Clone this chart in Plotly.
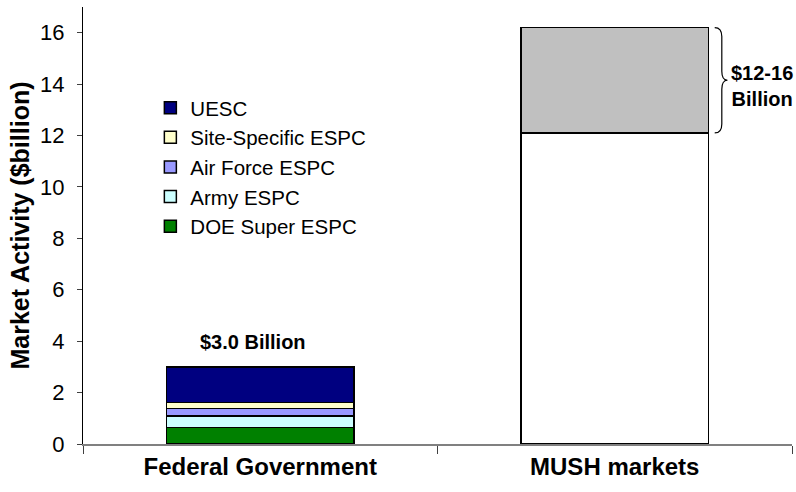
import plotly.graph_objects as go

# ---- data ----
categories = ["Federal Government", "MUSH markets"]
federal_series = ["DOE Super ESPC", "Army ESPC", "Air Force ESPC", "Site-Specific ESPC", "UESC"]
federal_values = [0.65, 0.43, 0.31, 0.23, 1.38]
federal_colors = ["#008000", "#CCFFFF", "#9999FF", "#FFFFCC", "#000080"]
mush_low = 12.1
mush_high = 16.2
y_ticks = [0, 2, 4, 6, 8, 10, 12, 14, 16]
federal_label = "$3.0 Billion"
mush_label = "$12-16<br>Billion"

FONT = "Liberation Sans, Arial, sans-serif"

fig = go.Figure()
for name, val, col in zip(federal_series, federal_values, federal_colors):
    fig.add_trace(go.Bar(
        x=[categories[0]], y=[val], name=name,
        marker=dict(color=col, line=dict(color="#000000", width=1.5)),
    ))
fig.add_trace(go.Bar(
    x=[categories[1]], y=[mush_low], name="MUSH low", showlegend=False,
    marker=dict(color="#FFFFFF", line=dict(color="#000000", width=1.5)),
))
fig.add_trace(go.Bar(
    x=[categories[1]], y=[mush_high - mush_low], name="MUSH range", showlegend=False,
    marker=dict(color="#C0C0C0", line=dict(color="#000000", width=1.5)),
))

fed_total = sum(federal_values)

fig.add_annotation(x=categories[0], y=fed_total, xref="x", yref="y",
                   text="<b>" + federal_label + "</b>", showarrow=False,
                   yanchor="bottom", yshift=12, xshift=-7,
                   font=dict(family=FONT, size=20, color="#000000"))

# curly brace next to MUSH range (paper x, data y)
x0, x1, x2 = 0.891, 0.901, 0.909
ymid = (mush_low + mush_high) / 2
d = 0.35
brace = (f"M {x0},{mush_high} Q {x1},{mush_high} {x1},{mush_high - d} "
         f"L {x1},{ymid + d} Q {x1},{ymid} {x2},{ymid} "
         f"Q {x1},{ymid} {x1},{ymid - d} "
         f"L {x1},{mush_low + d} Q {x1},{mush_low} {x0},{mush_low}")
fig.add_shape(type="path", path=brace, xref="paper", yref="y",
              line=dict(color="#000000", width=1.2))

fig.add_annotation(x=0.957, y=ymid, xref="paper", yref="y",
                   text="<b>" + mush_label + "</b>", showarrow=False,
                   xanchor="center", yanchor="middle", align="center",
                   yshift=-6,
                   font=dict(family=FONT, size=20, color="#000000"))

fig.update_layout(
    width=796, height=492,
    margin=dict(l=83, r=4, t=7, b=48, autoexpand=False),
    barmode="stack", bargap=0.47,
    plot_bgcolor="#FFFFFF", paper_bgcolor="#FFFFFF",
    font=dict(family=FONT, color="#000000"),
    showlegend=True,
    legend=dict(x=0.095, y=0.815, xanchor="left", yanchor="top",
                traceorder="reversed", bgcolor="rgba(0,0,0,0)",
                font=dict(family=FONT, size=20.5, color="#000000"),
                itemwidth=30),
    xaxis=dict(
        categoryorder="array", categoryarray=categories,
        showline=True, linecolor="#808080", linewidth=1.5,
        ticks="outside", ticklen=8, tickcolor="#404040", tickson="boundaries",
        tickfont=dict(family=FONT, size=24, color="#000000", weight="bold"),
        showgrid=False, zeroline=False, fixedrange=True, automargin=False,
    ),
    yaxis=dict(
        range=[0, 17], tickvals=y_ticks, ticktext=[str(v) for v in y_ticks],
        showline=True, linecolor="#000000", linewidth=1,
        ticks="outside", ticklen=5, tickcolor="#404040",
        ticklabelstandoff=8, automargin=False,
        tickfont=dict(family=FONT, size=22, color="#000000"),
        showgrid=False, zeroline=False,
        title=dict(text="<b>Market Activity ($billion)</b>", standoff=3,
                   font=dict(family=FONT, size=25, color="#000000")),
    ),
)

fig.write_html("out.html",
               config={"displayModeBar": False},
               post_script="document.body.style.margin='0';")
